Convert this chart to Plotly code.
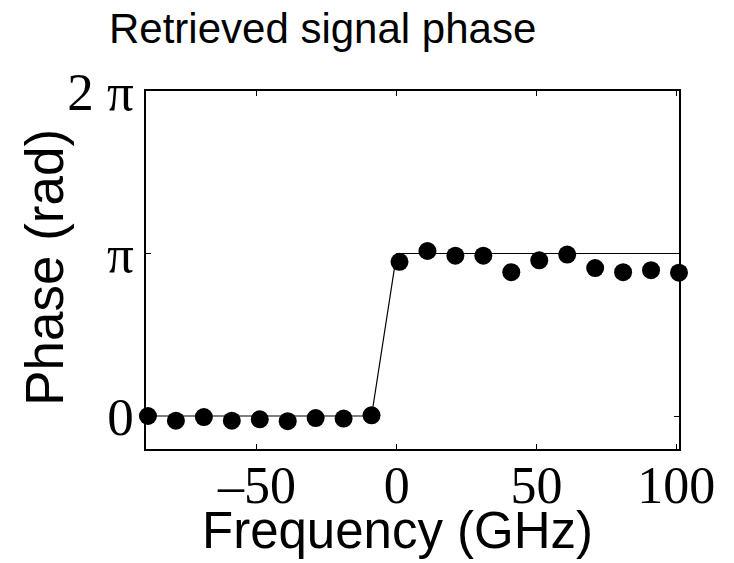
import math
import plotly.graph_objects as go

PI = math.pi

# Measured points (GHz, rad)
freq = [-89, -79, -69, -59, -49, -39, -29, -19, -9,
        1, 11, 21, 31, 41, 51, 61, 71, 81, 91, 101]
phase = [0.0, -0.09, -0.02, -0.09, -0.065, -0.10, -0.04, -0.05, 0.013,
         2.98, 3.19, 3.10, 3.10, 2.78, 3.01, 3.12, 2.86, 2.78, 2.82, 2.77]

# Theoretical step curve
theory_freq = [-89, -9, 0, 101]
theory_phase = [0.0, 0.0, PI, PI]

x_ticks = [-50, 0, 50, 100]
x_ticktext = ["\u201350", "0", "50", "100"]
y_ticks = [0, PI, 2 * PI]
y_ticktext = ["0", "\u03c0", "2 \u03c0"]

fig = go.Figure()
fig.add_trace(go.Scatter(x=theory_freq, y=theory_phase, mode="lines",
                         line=dict(color="black", width=1.2),
                         showlegend=False, hoverinfo="skip"))
fig.add_trace(go.Scatter(x=freq, y=phase, mode="markers",
                         marker=dict(color="black", size=18, line=dict(width=0)),
                         showlegend=False, cliponaxis=False))

serif = "Liberation Serif, Times New Roman, serif"
sans = "Liberation Sans, Arial, sans-serif"

fig.update_layout(
    width=734, height=563,
    margin=dict(l=146, r=55, t=91, b=114),
    paper_bgcolor="white", plot_bgcolor="white",
    xaxis=dict(range=[-89.7, 101], tickvals=x_ticks, ticktext=x_ticktext,
               ticks="inside", ticklen=5, tickwidth=1, tickcolor="black",
               showline=True, linecolor="black", linewidth=1.5, mirror="ticks",
               showgrid=False, zeroline=False, ticklabelstandoff=-10,
               tickfont=dict(family=serif, size=52, color="black")),
    yaxis=dict(range=[-0.203 * PI, 2 * PI], tickvals=y_ticks, ticktext=y_ticktext,
               ticks="inside", ticklen=5, tickwidth=1, tickcolor="black",
               showline=True, linecolor="black", linewidth=1.5, mirror="ticks",
               showgrid=False, zeroline=False,
               tickfont=dict(family=serif, size=53, color="black")),
    annotations=[
        dict(text="Retrieved signal phase", xref="paper", yref="paper",
             x=0.332, y=1.175, xanchor="center", yanchor="middle", showarrow=False,
             font=dict(family=sans, size=42, color="black")),
        dict(text="Frequency (GHz)", xref="paper", yref="paper",
             x=0.471, y=-0.228, xanchor="center", yanchor="middle", showarrow=False,
             font=dict(family=sans, size=51, color="black")),
        dict(text="Phase (rad)", xref="paper", yref="paper", textangle=-90,
             x=-0.192, y=0.508, xanchor="center", yanchor="middle", showarrow=False,
             font=dict(family=sans, size=53, color="black")),
    ],
)

fig.write_html("out.html")
